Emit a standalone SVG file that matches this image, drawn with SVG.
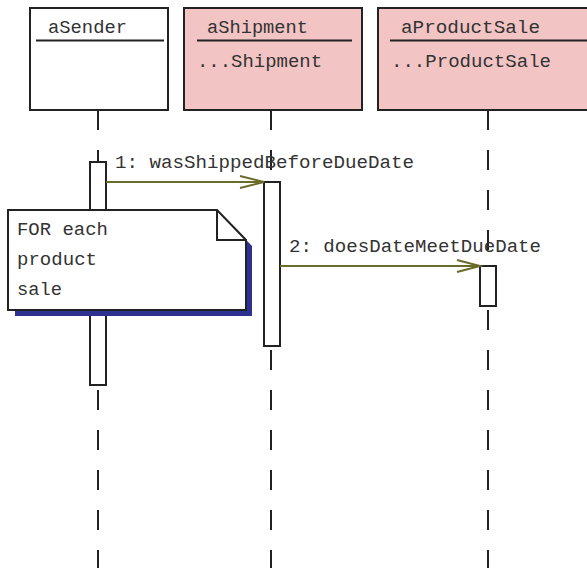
<svg xmlns="http://www.w3.org/2000/svg" width="587" height="568" viewBox="0 0 587 568">
<style>
.box{stroke:#222;stroke-width:2}
.obj{fill:#fff}
.pink{fill:#f2c4c4}
.hl{stroke:#222;stroke-width:2}
.t{font-family:"Liberation Mono","Courier New",monospace;font-size:18.5px;fill:#333}
.life{stroke:#222;stroke-width:2;stroke-dasharray:20 20;fill:none}
.act{fill:#fff;stroke:#222;stroke-width:2}
.msg{stroke:#6b6b2a;stroke-width:2;fill:none}
</style>
<g id="lifelines">
<line class="life" x1="98" y1="110" x2="98" y2="568"/>
<line class="life" x1="271" y1="110" x2="271" y2="568"/>
<line class="life" x1="488" y1="110" x2="488" y2="568"/>
</g>
<g id="aSender">
<rect class="box obj" x="30" y="8" width="138" height="102"/>
<line class="hl" x1="36" y1="40.5" x2="164" y2="40.5"/>
<text class="t" x="48" y="33" textLength="79" lengthAdjust="spacingAndGlyphs">aSender</text>
</g>
<g id="aShipment">
<rect class="box pink" x="184" y="8" width="178" height="102"/>
<line class="hl" x1="197" y1="40.5" x2="352" y2="40.5"/>
<text class="t" x="207" y="33" textLength="101" lengthAdjust="spacingAndGlyphs">aShipment</text>
<text class="t" x="197" y="67" textLength="125" lengthAdjust="spacingAndGlyphs">...Shipment</text>
</g>
<g id="aProductSale">
<rect class="box pink" x="378" y="8" width="220" height="102"/>
<line class="hl" x1="390" y1="40.5" x2="587" y2="40.5"/>
<text class="t" x="401" y="33" textLength="139" lengthAdjust="spacingAndGlyphs">aProductSale</text>
<text class="t" x="391" y="67" textLength="160" lengthAdjust="spacingAndGlyphs">...ProductSale</text>
</g>
<g id="activations">
<rect class="act" x="90" y="162" width="16" height="223"/>
<rect class="act" x="264" y="182" width="16" height="164"/>
<rect class="act" x="480" y="266" width="16" height="40"/>
</g>
<g id="connectors">
<line class="msg" x1="106" y1="182" x2="263" y2="182"/>
<polyline class="msg" points="240,176 264,182 240,188"/>
<text class="t" x="115" y="168" textLength="299" lengthAdjust="spacingAndGlyphs">1: wasShippedBeforeDueDate</text>
<line class="msg" x1="280" y1="266" x2="479" y2="266"/>
<polyline class="msg" points="457,260 480,266 457,272"/>
<text class="t" x="289" y="252" textLength="252" lengthAdjust="spacingAndGlyphs">2: doesDateMeetDueDate</text>
</g>
<g id="note">
<polygon points="15,216 223,216 252,246 252,316 15,316" fill="#2e3192"/>
<polygon points="8,210 217,210 246,240 246,310 8,310" fill="#fff" stroke="#222" stroke-width="2"/>
<polyline points="217,210 217,240 246,240" fill="none" stroke="#222" stroke-width="2"/>
<text class="t" x="17" y="235" textLength="91" lengthAdjust="spacingAndGlyphs">FOR each</text>
<text class="t" x="17" y="265" textLength="80" lengthAdjust="spacingAndGlyphs">product</text>
<text class="t" x="17" y="295" textLength="45" lengthAdjust="spacingAndGlyphs">sale</text>
</g>
</svg>
